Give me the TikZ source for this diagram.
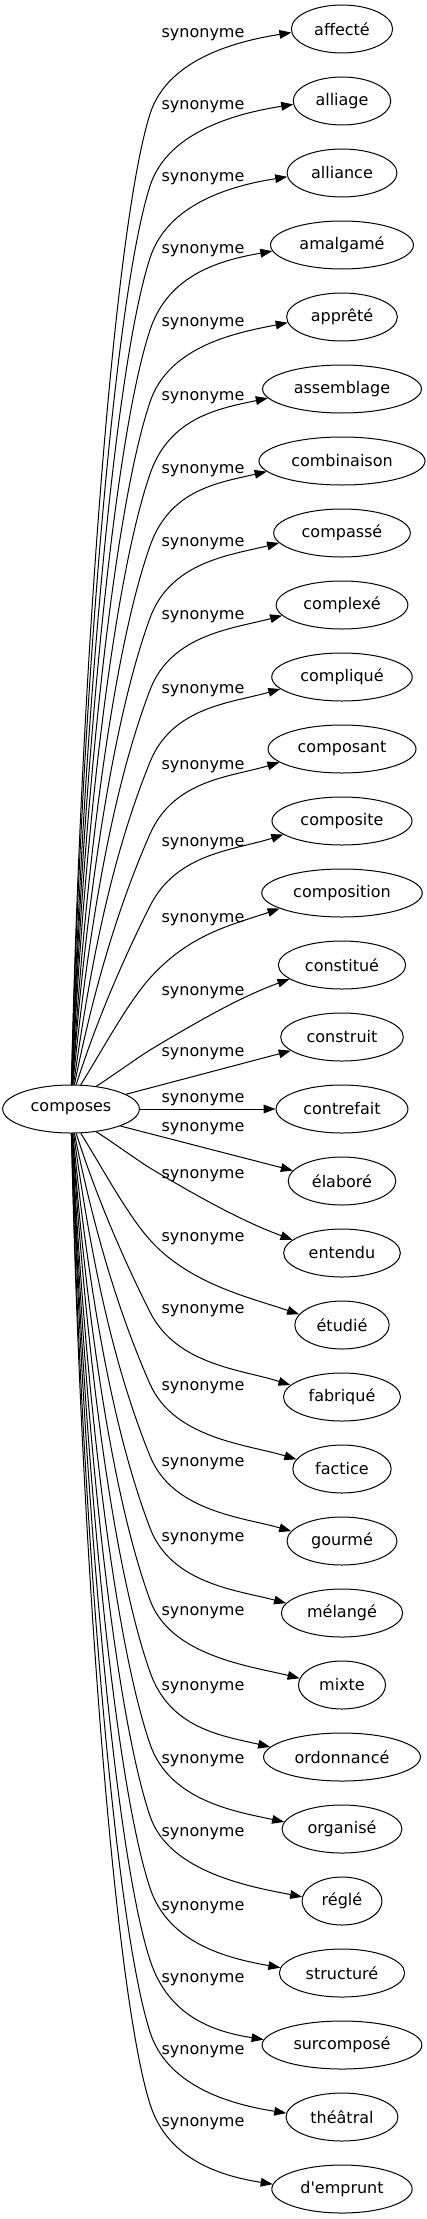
\documentclass[tikz,border=0pt]{standalone}
\usepackage{fontspec}
\setmainfont{DejaVu Sans}
\usepackage{tikz}
\usetikzlibrary{arrows.meta,shapes.geometric,calc}
\newcommand{\synfont}{\fontsize{12}{14}\selectfont}
\tikzset{>={Triangle[length=9pt,width=6.5pt]}}
\tikzset{word/.style={ellipse,draw=black,line width=0.75pt,inner xsep=6pt,minimum height=36pt,font=\synfont}}
\tikzset{lab/.style={font=\synfont,inner sep=0pt}}
\tikzset{syn/.style={->,line width=0.75pt}}
% bent edge from composes: #1 target, #2 rows from the middle, #3 height of the label
\newcommand{\synedge}[3]{%
  \pgfmathsetmacro{\syS}{ifthenelse(#2<0,-1,1)}%
  \pgfmathsetmacro{\syK}{abs(#2)}%
  \pgfmathsetmacro{\syBy}{1109+72*(#2)-(\syS)*85}%
  \pgfmathsetmacro{\syF}{190/(\syK*\syK)}%
  \pgfmathtruncatemacro{\syAl}{-(\syS)*(90-\syF)}%
  \pgfmathsetmacro{\syEp}{min(58,1.5*\syF)}%
  \pgfmathsetmacro{\syPh}{ifthenelse(\syK<2.5,59,ifthenelse(\syK<3.5,42,15+35/(\syK-1)))}%
  \pgfmathsetmacro{\syPs}{max(9,22-\syK)}%
  \pgfmathtruncatemacro{\syTa}{180-(\syS)*(\syPs-5)}%
  \pgfmathsetmacro{\syL}{abs(\syBy-1109-(\syS)*22)}%
  \pgfmathsetmacro{\syA}{0.4*\syL}%
  \pgfmathsetmacro{\syB}{min(0.3*\syL,37.5/sin(\syPh))}%
  \pgfmathsetmacro{\syCax}{\syA*sin(\syEp)}%
  \pgfmathsetmacro{\syCay}{(\syS)*\syA*cos(\syEp)}%
  \pgfmathsetmacro{\syCbx}{150-\syB*sin(\syPh)}%
  \pgfmathsetmacro{\syCby}{\syBy-(\syS)*\syB*cos(\syPh)}%
  \pgfmathsetmacro{\syCcx}{150+60*sin(\syPh)}%
  \pgfmathsetmacro{\syCcy}{\syBy+(\syS)*60*cos(\syPh)}%
  \pgfmathsetmacro{\syCdx}{-50*cos(\syPs)}%
  \pgfmathsetmacro{\syCdy}{-(\syS)*50*sin(\syPs)}%
  \draw[syn] (composes.\syAl) .. controls ($(composes.\syAl)+(\syCax,\syCay)$) and (\syCbx,\syCby) .. (150,\syBy) .. controls (\syCcx,\syCcy) and ($(#1.\syTa)+(\syCdx,\syCdy)$) .. (#1.\syTa);%
  \node (l-#1) [lab] at (203,#3) {synonyme};%
}
\begin{document}
\begin{tikzpicture}[x=0.75pt,y=-0.75pt]
\useasboundingbox (0,0) rectangle (427,2219);
\node (composes) [word] at (71,1109) {composes};
%
\node (affecte) [word] at (342,29) {affecté};
\node (alliage) [word] at (342,101) {alliage};
\node (alliance) [word] at (342,173) {alliance};
\node (amalgame) [word] at (342,245) {amalgamé};
\node (apprete) [word] at (342,317) {apprêté};
\node (assemblage) [word] at (342,389) {assemblage};
\node (combinaison) [word] at (342,461) {combinaison};
\node (compasse) [word] at (342,533) {compassé};
\node (complexe) [word] at (342,605) {complexé};
\node (complique) [word] at (342,677) {compliqué};
\node (composant) [word] at (342,749) {composant};
\node (composite) [word] at (342,821) {composite};
\node (composition) [word] at (342,893) {composition};
\node (constitue) [word] at (342,965) {constitué};
\node (construit) [word] at (342,1037) {construit};
\node (contrefait) [word] at (342,1109) {contrefait};
\node (elabore) [word] at (342,1181) {élaboré};
\node (entendu) [word] at (342,1253) {entendu};
\node (etudie) [word] at (342,1325) {étudié};
\node (fabrique) [word] at (342,1397) {fabriqué};
\node (factice) [word] at (342,1469) {factice};
\node (gourme) [word] at (342,1541) {gourmé};
\node (melange) [word] at (342,1613) {mélangé};
\node (mixte) [word] at (342,1685) {mixte};
\node (ordonnance) [word] at (342,1757) {ordonnancé};
\node (organise) [word] at (342,1829) {organisé};
\node (regle) [word] at (342,1901) {réglé};
\node (structure) [word] at (342,1973) {structuré};
\node (surcompose) [word] at (342,2045) {surcomposé};
\node (theatral) [word] at (342,2117) {théâtral};
\node (demprunt) [word] at (342,2189) {d\textquotesingle emprunt};
%
\synedge{affecte}{-15}{35}
\synedge{alliage}{-14}{107}
\synedge{alliance}{-13}{179}
\synedge{amalgame}{-12}{251}
\synedge{apprete}{-11}{324}
\synedge{assemblage}{-10}{398}
\synedge{combinaison}{-9}{471}
\synedge{compasse}{-8}{544}
\synedge{complexe}{-7}{617}
\synedge{complique}{-6}{691}
\synedge{composant}{-5}{767}
\synedge{composite}{-4}{844}
\synedge{composition}{-3}{920}
\synedge{constitue}{-2}{993}
%
\draw[syn] (composes.15) -- (construit.195);
\node (l-construit) [lab] at (203,1054) {synonyme};
\draw[syn] (composes) -- (contrefait);
\node (l-contrefait) [lab] at (203,1100) {synonyme};
\draw[syn] (composes.-19) -- (elabore.168);
\node (l-elabore) [lab] at (203,1129) {synonyme};
%
\synedge{entendu}{2}{1176}
\synedge{etudie}{3}{1239}
\synedge{fabrique}{4}{1311}
\synedge{factice}{5}{1388}
\synedge{gourme}{6}{1464}
\synedge{melange}{7}{1539}
\synedge{mixte}{8}{1613}
\synedge{ordonnance}{9}{1688}
\synedge{organise}{10}{1761}
\synedge{regle}{11}{1834}
\synedge{structure}{12}{1908}
\synedge{surcompose}{13}{1980}
\synedge{theatral}{14}{2052}
\synedge{demprunt}{15}{2124}
\end{tikzpicture}
\end{document}
